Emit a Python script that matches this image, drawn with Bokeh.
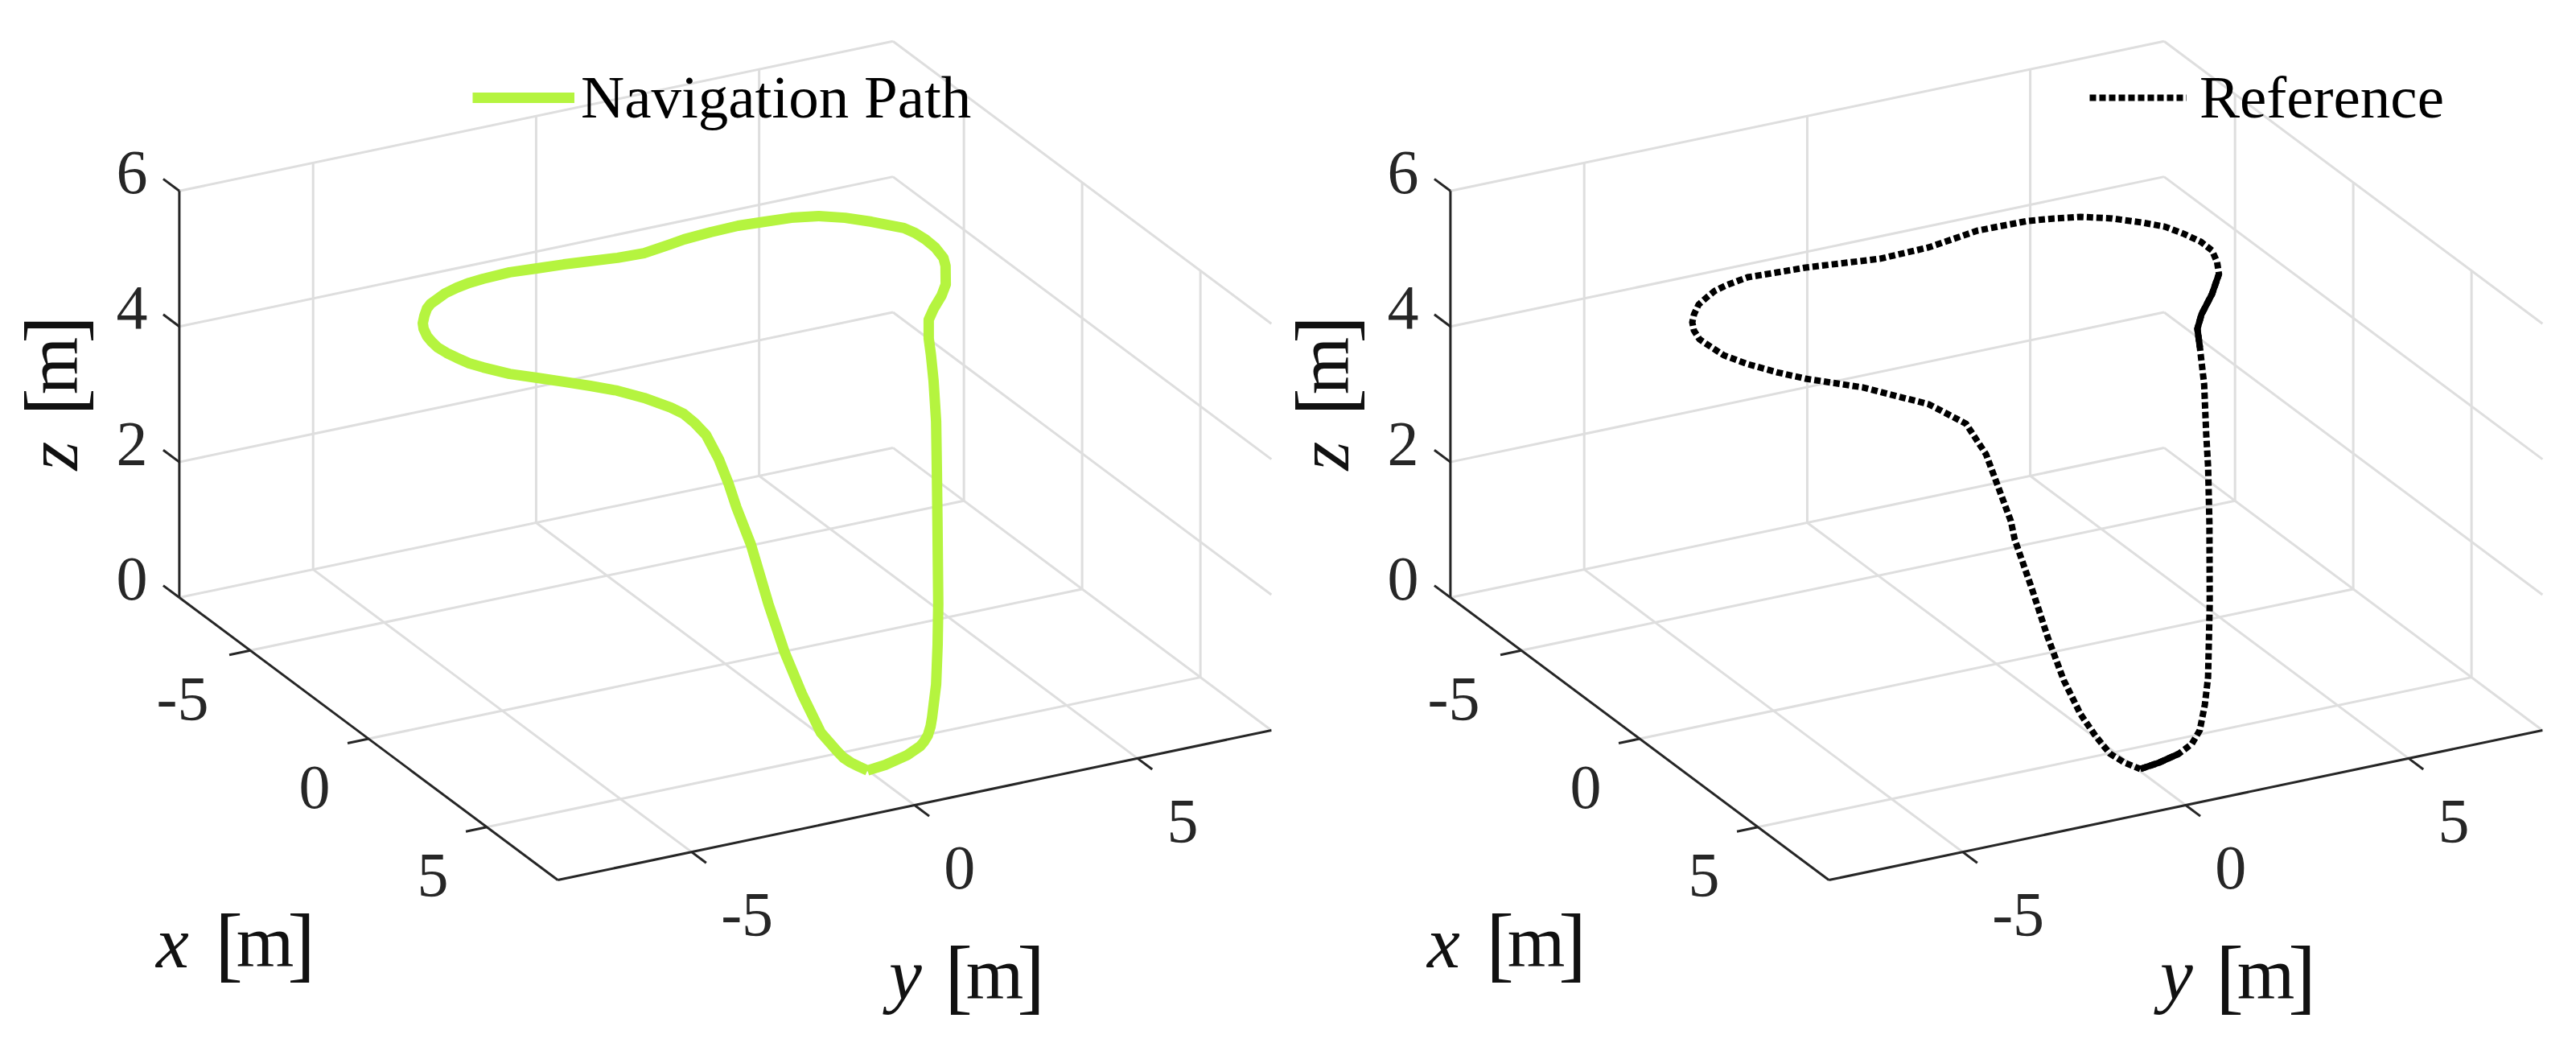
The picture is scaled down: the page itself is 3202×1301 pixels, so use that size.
from bokeh.plotting import figure
from bokeh.layouts import row
from bokeh.models import Range1d, Legend, LegendItem
from bokeh.embed import file_html
from bokeh.resources import INLINE
from bokeh.core.properties import value
import math

nav_x = [6.03,6.1,6.14,6.08,6.06,5.96,5.83,5.69,5.14,4.45,3.76,2.37,1.42,0.52,-0.21,-0.72,-1.0,
         -1.34,-1.79,-2.29,-2.75,-3.57,-3.94,-4.48,-4.93,-5.31,-5.63,
         -6.21,-6.63,-6.95,-7.13,-7.2,-7.27,-7.24,-7.17,-7.08,-6.93,
         -6.97,-7.08,-7.18,-7.25,-7.33,-7.29,-7.24,-7.14,-7.0,-6.82,
         -6.67,-6.49,-6.2,-5.89,-5.63,-5.28,-4.99,-4.69,-4.35,-4.05,
         -3.68,-3.37,-2.84,-2.41,-1.99,-1.56,-1.1,-0.53,0.14,0.55,
         1.04,
         1.26,1.61,1.96,2.26,2.75,3.15,3.5,4.11,4.69,5.25,5.56,5.69,5.79,5.92,6.03]
nav_y = [-0.01,0.35,0.82,1.14,1.24,1.38,1.51,1.62,2.0,2.4,2.78,3.5,3.99,4.45,4.78,4.99,5.09,
         5.27,5.62,6.06,6.4,6.83,6.98,7.08,7.1,7.07,6.99,
         6.57,6.2,5.78,5.26,4.7,4.14,3.51,2.88,2.53,1.85,
         1.28,0.72,0.18,-0.38,-0.95,-1.57,-1.9,-2.24,-2.57,-2.84,
         -3.07,-3.25,-3.46,-3.66,-3.78,-3.89,-3.94,-3.97,-3.94,-3.88,
         -3.79,-3.64,-3.33,-2.94,-2.57,-2.2,-1.84,-1.54,-1.3,-1.22,
         -1.24,
         -1.1,-1.0,-0.97,-0.95,-0.88,-0.88,-0.89,-0.85,-0.76,-0.64,-0.44,-0.37,-0.26,-0.15,-0.01]
nav_z = [0,0.05,0.14,0.21,0.26,0.31,0.39,0.48,0.76,1.12,1.48,2.17,2.64,3.1,3.46,3.69,3.84,
         4.0,4.0,4.0,4.0,4.0,4.0,4.0,4.0,4.0,4.0,
         4.0,4.0,4.0,4.0,4.0,4.0,4.0,4.0,4.0,4.0,
         4.0,4.0,4.0,4.0,4.0,4.0,4.0,4.0,4.0,4.0,
         4.0,4.0,4.0,4.0,4.0,4.0,4.0,4.0,4.0,4.0,
         4.0,4.0,4.0,4.0,4.0,4.0,4.0,4.0,4.0,4.0,
         4.0,
         3.86,3.58,3.31,3.03,2.59,2.22,1.92,1.36,0.87,0.44,0.22,0.15,0.09,0.05,0]

ref_x = [6.01,6.08,6.11,6.07,5.9,5.53,5.1,3.85,2.48,1.5,0.93,0.05,-0.64,
         -0.97,-1.57,-2.37,-3.19,-3.74,-4.29,-4.78,-5.29,-5.79,-6.17,
         -6.64,-7.0,-7.17,-7.31,-7.35,-7.06,-7.01,-7.31,-7.36,-7.42,
         -7.26,-7.12,-6.91,-6.67,-6.28,-5.94,-5.57,-5.13,-4.85,-4.19,
         -3.58,-2.95,-2.4,-1.48,-0.12,
         1.05,1.54,2.42,2.64,3.26,3.9,4.47,4.95,5.3,5.59,5.81,6.04]
ref_y = [0.04,0.43,0.85,1.16,1.43,1.74,2.04,2.74,3.46,3.95,4.21,4.63,4.9,
         5.02,5.43,6.09,6.68,6.93,7.11,7.12,7.01,6.84,6.55,
         6.11,5.6,5.1,4.58,3.48,2.22,1.1,-0.4,-1.02,-1.64,
         -2.21,-2.54,-2.83,-3.14,-3.45,-3.67,-3.83,-3.94,-3.93,-3.89,
         -3.68,-3.36,-3.01,-2.21,-1.45,
         -1.24,-1.05,-0.96,-0.99,-0.94,-0.92,-0.86,-0.74,-0.59,-0.42,-0.22,0.02]
ref_z = [0.01,0.07,0.15,0.24,0.36,0.6,0.85,1.51,2.24,2.75,3.05,3.5,3.83,
         4.0,4.0,4.0,4.0,4.0,4.0,4.0,4.0,4.0,4.0,
         4.0,4.0,4.0,4.0,4.0,4.0,4.0,4.0,4.0,4.0,
         4.0,4.0,4.0,4.0,4.0,4.0,4.0,4.0,4.0,4.0,
         4.0,4.0,4.0,4.0,4.0,
         3.99,3.64,2.87,2.66,2.1,1.54,1.04,0.65,0.4,0.19,0.09,0.02]

x_ticks = [-5, 0, 5]
y_ticks = [-5, 0, 5]
z_ticks = [0, 2, 4, 6]
x_lim = (-8, 8)
y_lim = (-8, 8)
z_lim = (0, 6)
nav_label = "Navigation Path"
ref_label = "Reference"

GRID = "#DEDEDE"
AXIS = "#262626"
LABEL = "#111111"
GREEN = "#B5F43F"
SERIF = value("Liberation Serif")


def proj(x, y, z):
    """Oblique view of the 3-D box onto the picture plane."""
    u = 222.4 + (x + 8) * 29.4 + (y + 8) * 55.44
    v = 742 + (x + 8) * 21.94 - (y + 8) * 11.63 - z * 84.2
    return u, v


def seg(p, a, b, **kw):
    ua, va = proj(*a)
    ub, vb = proj(*b)
    p.line([ua, ub], [va, vb], **kw)


def txt(p, u, v, s, size, rotated=False, style="normal", color="#262626", k=0.33):
    # u, v: centre of the text and its baseline (x for rotated text, y otherwise).
    s_off = k * size
    if rotated:
        u = u - s_off
    else:
        v = v - s_off
    p.text([u], [v], text=[s], text_font=SERIF, text_font_size=f"{size}px",
           text_align="center", text_baseline="alphabetic",
           angle=math.pi / 2 if rotated else 0.0,
           text_font_style=style, text_color=color)


def axis_label(p, letter, cx, base, lx):
    """letter in italics, then the unit [m], reading left to right."""
    txt(p, lx, base + 1, letter, 92, style="italic", color=LABEL, k=0.3)
    txt(p, cx - 45, base + 5, "[", 104, color=LABEL, k=0.3)
    txt(p, cx, base, "m", 92, color=LABEL, k=0.3)
    txt(p, cx + 45, base + 5, "]", 104, color=LABEL, k=0.3)


def panel(width, left, px, py, pz, label, lw, dash, color, solid, legend_x, glyph_w, standoff):
    p = figure(width=width, height=1285, x_range=Range1d(left, left + width),
               y_range=Range1d(1285, 0), output_backend="svg", toolbar_location=None,
               min_border=0, outline_line_color=None, background_fill_color="white")
    p.axis.visible = False
    p.grid.visible = False
    g = dict(line_color=GRID, line_width=3)
    x0, x1 = x_lim
    y0, y1 = y_lim
    z0, z1 = z_lim
    for z in z_ticks:
        seg(p, (x0, y0, z), (x0, y1, z), **g)
        seg(p, (x0, y1, z), (x1, y1, z), **g)
    for y in y_ticks:
        seg(p, (x0, y, z0), (x0, y, z1), **g)
        seg(p, (x0, y, z0), (x1, y, z0), **g)
    for x in x_ticks:
        seg(p, (x, y1, z0), (x, y1, z1), **g)
        seg(p, (x, y0, z0), (x, y1, z0), **g)

    a = dict(line_color=AXIS, line_width=3)
    seg(p, (x0, y0, z0), (x0, y0, z1), **a)
    seg(p, (x0, y0, z0), (x1, y0, z0), **a)
    seg(p, (x1, y0, z0), (x1, y1, z0), **a)
    for z in z_ticks:
        seg(p, (x0, y0, z), (x0 - 0.68, y0, z), **a)
        u, v = proj(x0, y0, z)
        txt(p, u - 59, v + 3, str(z), 78)
    for x in x_ticks:
        seg(p, (x, y0, z0), (x, y0 - 0.47, z0), **a)
        u, v = proj(x, y0, z0)
        txt(p, u - 67 - (17 if x < 0 else 0), v + 86, str(x), 78)
    for y in y_ticks:
        seg(p, (x1, y, z0), (x1 + 0.62, y, z0), **a)
        u, v = proj(x1, y, z0)
        txt(p, u + 56 + (13 if y < 0 else 0), v + 104, str(y), 78)

    axis_label(p, "x", 329, 1197, 214)
    axis_label(p, "y", 1236, 1237, 1125)
    # the z label reads upwards
    txt(p, 92, 566, "z", 92, rotated=True, style="italic", color=LABEL, k=0.3)
    txt(p, 97, 499, "[", 104, rotated=True, color=LABEL, k=0.3)
    txt(p, 92, 454, "m", 92, rotated=True, color=LABEL, k=0.3)
    txt(p, 97, 409, "]", 104, rotated=True, color=LABEL, k=0.3)

    pts = [proj(*t) for t in zip(px, py, pz)]
    us = [t[0] for t in pts]
    vs = [t[1] for t in pts]
    kw = dict(line_color=color, line_width=lw, line_join="round")
    if dash:
        kw.update(line_dash=dash, line_cap="butt", line_join="miter")
    r = p.line(us, vs, **kw)
    for i, j in solid:
        p.line(us[i:j], vs[i:j], line_color=color, line_width=lw, line_join="round")

    leg = Legend(items=[LegendItem(label=label, renderers=[r])],
                 location=(legend_x, 1121), background_fill_alpha=0, border_line_alpha=0,
                 label_text_font="Liberation Serif", label_text_font_size="75px",
                 label_text_color="#000000", glyph_width=glyph_w, glyph_height=40,
                 label_standoff=standoff, padding=0, margin=0, spacing=0)
    p.add_layout(leg)
    return p


p1 = panel(1587, 0, nav_x, nav_y, nav_z, nav_label, 13, None, GREEN, [], 587, 127, 8)
p2 = panel(1599, 7, ref_x, ref_y, ref_z, ref_label, 8, "8 4", "#000000", [(0, 3), (12, 17)], 1010, 121, 16)

open("out.html", "w").write(file_html(row(p1, p2), INLINE))
